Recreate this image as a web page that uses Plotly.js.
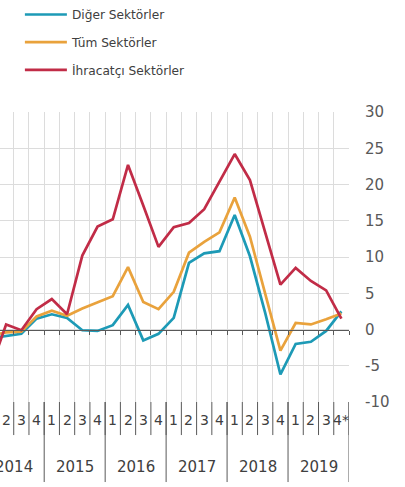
<!DOCTYPE html>
<html>
<head>
<meta charset="utf-8">
<script src="https://cdn.plot.ly/plotly-3.0.1.min.js"></script>
<style>html,body{margin:0;padding:0;background:#fff;}#chart{width:405px;height:487px;}</style>
</head>
<body>
<div id="chart"></div>
<script>
// Quarters 2014Q1 .. 2019Q4
const years = ['2014', '2015', '2016', '2017', '2018', '2019'];
const quarterLabels = ['1','2','3','4','1','2','3','4','1','2','3','4','1','2','3','4','1','2','3','4','1','2','3','4*'];
// Annual % change
const diger = [-1.2, -0.9, -0.6, 1.5, 2.1, 1.6, -0.1, -0.2, 0.6, 3.4, -1.5, -0.6, 1.6, 9.2, 10.5, 10.8, 15.8, 10.1, 2.3, -6.2, -2.0, -1.7, -0.2, 2.5];
const tum = [-0.8, -0.4, -0.3, 1.8, 2.6, 1.9, 2.9, 3.7, 4.6, 8.6, 3.8, 2.8, 5.2, 10.6, 12.1, 13.4, 18.2, 12.8, 5.0, -2.9, 0.9, 0.7, 1.4, 2.2];
const ihracatci = [-5.3, 0.7, -0.1, 2.8, 4.2, 2.1, 10.2, 14.2, 15.2, 22.7, 17.1, 11.4, 14.1, 14.7, 16.6, 20.3, 24.2, 20.6, 13.3, 6.2, 8.5, 6.7, 5.4, 1.5];
const seriesNames = ['Diğer Sektörler', 'Tüm Sektörler', 'İhracatçı Sektörler'];
const yTicks = [-10, -5, 0, 5, 10, 15, 20, 25, 30];
const yTickText = ['-10', '-5', '0', '5', '10', '15', '20', '25', '30'];

const idx = quarterLabels.map((_, i) => i);
const boundaries = quarterLabels.map((_, i) => i - 0.5).concat([quarterLabels.length - 0.5]);
const yearBoundaries = boundaries.filter((_, i) => i % 4 === 0);

const FONT = 'DejaVu Sans';
const colors = ['#1d9ab6', '#e9a23c', '#c12c47'];
const data = [diger, tum, ihracatci].map((vals, k) => ({
  type: 'scatter', mode: 'lines', x: idx, y: vals, name: seriesNames[k],
  line: {color: colors[k], width: 2.7},
  legend: k === 0 ? 'legend' : 'legend' + (k + 1),
  hoverinfo: 'skip'
}));

const legendBase = (y) => ({
  x: 0.057, y: y, xanchor: 'left', yanchor: 'middle', bgcolor: 'rgba(0,0,0,0)',
  font: {family: FONT, size: 12.2, color: '#404040'}, itemwidth: 42
});

const shapes = [];
boundaries.forEach((b) => {
  shapes.push({type: 'line', xref: 'x', yref: 'paper', x0: b, x1: b, y0: 0, y1: -0.114,
    line: {color: '#595959', width: 1}});
});
yearBoundaries.forEach((b) => {
  shapes.push({type: 'line', xref: 'x', yref: 'paper', x0: b, x1: b, y0: 0, y1: -0.276,
    line: {color: '#595959', width: 1}});
});

const annotations = [];
quarterLabels.forEach((q, i) => {
  annotations.push({x: i, y: -0.062, xref: 'x', yref: 'paper', text: q, showarrow: false,
    xanchor: 'center', yanchor: 'middle', font: {family: FONT, size: 14, color: '#404040'}});
});
years.forEach((yr, j) => {
  annotations.push({x: j * 4 + 1.5, y: -0.224, xref: 'x', yref: 'paper', text: yr, showarrow: false,
    xanchor: 'center', yanchor: 'middle', font: {family: FONT, size: 15, color: '#404040'}});
});

const layout = {
  width: 405, height: 487,
  margin: {l: 0, r: 56, t: 112, b: 85, pad: 0},
  paper_bgcolor: '#ffffff', plot_bgcolor: '#ffffff',
  showlegend: true,
  legend: legendBase(1.338),
  legend2: legendBase(1.241),
  legend3: legendBase(1.145),
  xaxis: {
    range: [0.6, quarterLabels.length - 0.5], anchor: 'free', position: 0.25,
    tickmode: 'array', tickvals: boundaries, showticklabels: false,
    ticks: 'outside', ticklen: 4, tickcolor: '#595959', tickwidth: 1,
    showline: true, linecolor: '#595959', linewidth: 1.5,
    showgrid: true, gridcolor: '#dcdcdc', gridwidth: 1, zeroline: false, fixedrange: true
  },
  yaxis: {
    side: 'right', range: [-10, 30], tickmode: 'array', tickvals: yTicks, ticktext: yTickText,
    ticks: 'outside', ticklen: 12, tickcolor: 'rgba(0,0,0,0)',
    tickfont: {family: FONT, size: 15, color: '#595959'},
    showgrid: true, gridcolor: '#dcdcdc', gridwidth: 1, zeroline: false, showline: false, fixedrange: true
  },
  shapes: shapes,
  annotations: annotations
};

Plotly.newPlot('chart', data, layout, {displayModeBar: false, staticPlot: true});
</script>
</body>
</html>
